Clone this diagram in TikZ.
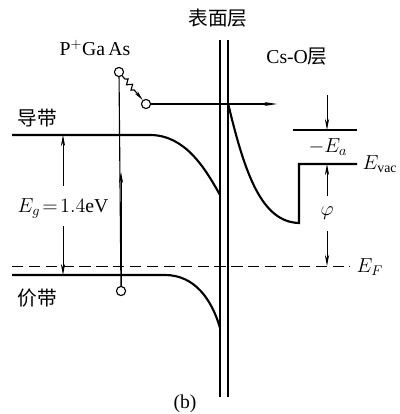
\documentclass[tikz,border=0pt]{standalone}
\usepackage{fontspec}
\setmainfont{Liberation Serif}
\newfontfamily\cjk{Noto Sans CJK SC}
\usepackage{tikz}
\usetikzlibrary{arrows.meta,positioning,decorations.pathmorphing}
\tikzset{
    bandline/.style = {line width=1.5pt},
    levelline/.style = {line width=0.8pt},
    fermiline/.style = {line width=0.7pt, dash pattern=on 8pt off 4pt},
    wallline/.style = {line width=0.75pt},
    gaparrow/.style = {line width=0.7pt, -{Stealth[length=8pt,width=3pt]}},
    carrier/.style = {circle, draw, line width=0.8pt, fill=white, inner sep=0pt, minimum size=6.5pt},
    cnlabel/.style = {font=\cjk\fontsize{14}{16}\selectfont, inner sep=1pt},
    txtlabel/.style = {font=\fontsize{14}{16}\selectfont, inner sep=1pt}
}

\begin{document}
\begin{tikzpicture}[x=0.025cm, y=-0.025cm]
    \useasboundingbox (0,0) rectangle (400,414);

    % Surface layer walls
    \coordinate (wallAtop) at (220,40);
    \coordinate (wallAbot) at (220,397);
    \coordinate (wallBtop) at (228,40);
    \coordinate (wallBbot) at (228,397);
    \draw [wallline] (wallAtop) -- (wallAbot);
    \draw [wallline] (wallBtop) -- (wallBbot);

    % Bands
    \coordinate (cbStart) at (12,135);
    \coordinate (cbBend) at (150,135);
    \coordinate (cbEnd) at (220,195);
    \coordinate (vbStart) at (12,275);
    \coordinate (vbBend) at (165,275);
    \coordinate (vbEnd) at (220,328);
    \draw [bandline] (cbStart) -- (cbBend) .. controls (185,135) and (205,168) .. (cbEnd);
    \draw [bandline] (vbStart) -- (vbBend) .. controls (195,275) and (212,300) .. (vbEnd);

    % Cs-O barrier and vacuum level
    \coordinate (csTop) at (228,103);
    \coordinate (csBot) at (299,223);
    \coordinate (vacStep) at (299,164);
    \coordinate (vacEnd) at (357,164);
    \draw [bandline] (csTop) .. controls (245,175) and (262,222) .. (csBot) -- (vacStep) -- (vacEnd);
    \coordinate (eaStart) at (293,130);
    \coordinate (eaEnd) at (357,130);
    \draw [levelline] (eaStart) -- (eaEnd);

    % Fermi level
    \coordinate (fStart) at (12,266);
    \coordinate (fEnd) at (350,266);
    \draw [fermiline] (fStart) -- (fEnd);

    % Carriers
    \node [carrier] (elec) at (119,72) {};
    \node [carrier] (hot) at (146,104) {};
    \node [carrier] (hole) at (121,291) {};
    \coordinate (exMid) at (121,172);
    \coordinate (emit) at (277,104);
    \draw [levelline] (hole) -- (elec);
    \draw [gaparrow] (hole) -- (exMid);
    \draw [levelline, -{Stealth[length=7pt,width=2.6pt]}, decorate,
        decoration={zigzag, amplitude=1.8pt, segment length=5pt, pre length=3pt, post length=7pt}] (elec) -- (hot);
    \draw [levelline, -{Stealth[length=9pt,width=2.8pt]}] (hot) -- (emit);

    % Energy arrows
    \coordinate (egTop) at (63,135);
    \coordinate (egUp) at (63,186);
    \coordinate (egDown) at (63,226);
    \coordinate (egBot) at (63,275);
    \draw [gaparrow] (egUp) -- (egTop);
    \draw [gaparrow] (egDown) -- (egBot);
    \coordinate (eaAbove) at (327,95);
    \coordinate (eaLine) at (327,130);
    \coordinate (vacLine) at (327,164);
    \coordinate (phiUp) at (327,196);
    \coordinate (phiDown) at (327,231);
    \coordinate (fLine) at (327,266);
    \draw [gaparrow] (eaAbove) -- (eaLine);
    \draw [gaparrow] (phiUp) -- (vacLine);
    \draw [gaparrow] (phiDown) -- (fLine);

    % Labels
    \node [cnlabel] (surf) at (218,18) {表面层};
    \node [txtlabel] (gaas) at (95,48) {P$^+$Ga\,As};
    \node [txtlabel] (cso) at (297,57) {Cs-O{\cjk 层}};
    \node [cnlabel] (cb) at (37,118) {导带};
    \node [cnlabel] (vb) at (37,298) {价带};
    \node [txtlabel] (eg) at (63,208) {$E_g\!=\!1.4$eV};
    \node [txtlabel] (ea) at (328,147) {$-E_a$};
    \node [txtlabel, anchor=west] (evac) at (361,164) {$E_{\mathrm{vac}}$};
    \node [txtlabel] (phi) at (327,213) {$\varphi$};
    \node [txtlabel, anchor=west] (ef) at (355,267) {$E_F$};
    \node [txtlabel] (sub) at (185,404) {(b)};
\end{tikzpicture}
\end{document}
